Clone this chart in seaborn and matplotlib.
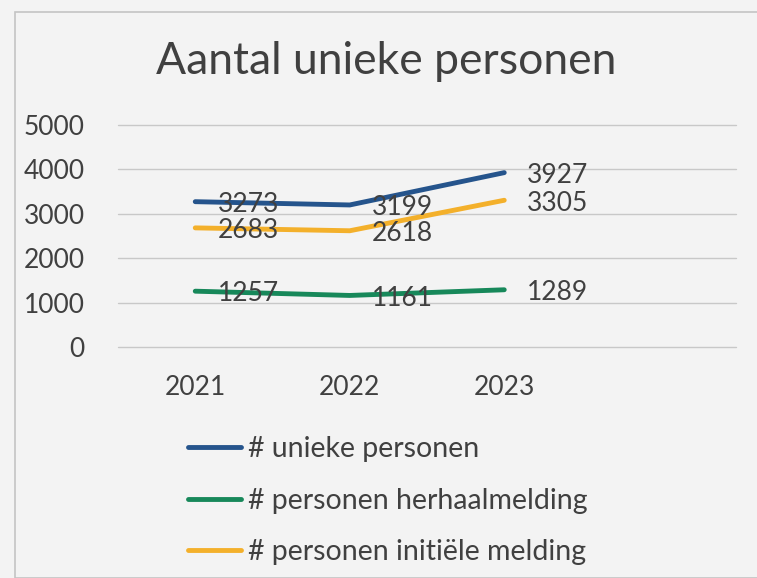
import matplotlib
matplotlib.use("Agg")
import matplotlib.pyplot as plt
import seaborn as sns
import pandas as pd
from matplotlib.patches import Rectangle
from matplotlib.lines import Line2D

years = ["2021", "2022", "2023"]
series_names = ["# unieke personen", "# personen herhaalmelding", "# personen initiële melding"]
unieke = [3273, 3199, 3927]
herhaal = [1257, 1161, 1289]
initieel = [2683, 2618, 3305]
colors = ["#25548c", "#17885a", "#f3b02b"]

rows = []
for name, vals in zip(series_names, [unieke, herhaal, initieel]):
    for i, (y, v) in enumerate(zip(years, vals)):
        rows.append({"jaar": y, "pos": i, "serie": name, "waarde": v})
df = pd.DataFrame(rows)

sns.set_style("white")
plt.rcParams["font.family"] = ["Lato", "DejaVu Sans"]
txt = "#404040"
bg = "#f3f3f3"

fig = plt.figure(figsize=(7.57, 5.78), dpi=100, facecolor=bg)
ax = fig.add_axes([118/757, 1-347/578, (736-118)/757, (347-125)/578])
ax.set_facecolor(bg)

sns.lineplot(data=df, x="pos", y="waarde", hue="serie", hue_order=series_names,
             palette=colors, linewidth=3.5, ax=ax, legend=False, solid_capstyle="round")

for name, vals in zip(series_names, [unieke, herhaal, initieel]):
    for i, v in enumerate(vals):
        ax.annotate(str(v), (i, v), xytext=(16, -2), textcoords="offset points",
                    ha="left", va="center", fontsize=19, color=txt, clip_on=False)

ax.set_xlim(-0.5, 3.5)
ax.set_ylim(0, 5000)
ax.set_yticks([0, 1000, 2000, 3000, 4000, 5000])
ax.set_xticks(range(len(years)))
ax.set_xticklabels(years)
ax.grid(axis="y", color="#c8c8c8", linewidth=1)
for gl in ax.get_ygridlines():
    gl.set_clip_on(False)
for s in ax.spines.values():
    s.set_visible(False)
ax.tick_params(axis="both", length=0, labelsize=19, colors=txt)
ax.tick_params(axis="x", pad=20)
ax.tick_params(axis="y", pad=24)
ax.set_xlabel("")
ax.set_ylabel("")

fig.text(386/757, 1-62/578, "Aantal unieke personen", ha="center", va="center",
         fontsize=32, color=txt)

handles = [Line2D([0], [0], color=c, linewidth=3.5) for c in colors]
leg = fig.legend(handles, series_names, loc="upper left",
                 bbox_to_anchor=(188/757, 1-436/578), frameon=False,
                 fontsize=20.5, handlelength=1.85, handletextpad=0.25,
                 labelspacing=0.9, borderpad=0, borderaxespad=0)
for t in leg.get_texts():
    t.set_color(txt)

fig.patches.append(Rectangle((15/757, 0), 1, 1-12/578, transform=fig.transFigure,
                             fill=False, edgecolor="#c4c4c4", linewidth=1.2))

fig.savefig("out.png", dpi=100, facecolor=bg)
